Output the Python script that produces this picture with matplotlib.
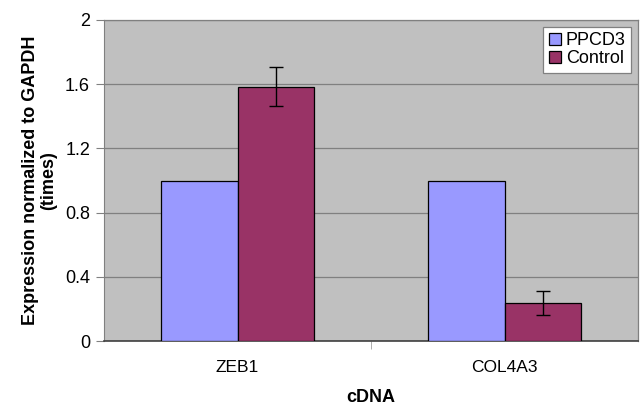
import matplotlib
matplotlib.use("Agg")
import matplotlib.pyplot as plt
import numpy as np

categories = ["ZEB1", "COL4A3"]
series_names = ["PPCD3", "Control"]
ppcd3 = [1.0, 1.0]
control = [1.585, 0.235]
control_err = [0.12, 0.075]
yticks = [0, 0.4, 0.8, 1.2, 1.6, 2]
ytick_labels = ["0", "0.4", "0.8", "1.2", "1.6", "2"]

plt.rcParams['font.family'] = ['Liberation Sans', 'DejaVu Sans']

fig = plt.figure(figsize=(6.42, 4.05), dpi=100)
ax = fig.add_axes([104/642, 1-341/405, 534/642, 321/405])
ax.set_facecolor('#C0C0C0')

x = np.arange(len(categories))
w = 0.288
ax.bar(x - w/2, ppcd3, w, color='#9999FF', edgecolor='black', linewidth=0.9, label=series_names[0], zorder=3)
ax.bar(x + w/2, control, w, color='#993366', edgecolor='black', linewidth=0.9, label=series_names[1], zorder=3)
ax.errorbar(x + w/2, control, yerr=control_err, fmt='none', ecolor='black', elinewidth=1.0, capsize=5, capthick=1.0, zorder=4)

ax.set_xlim(-0.5, 1.5)
ax.set_ylim(0, 2)
ax.set_yticks(yticks)
ax.set_yticklabels(ytick_labels, fontsize=13)
ax.yaxis.grid(True, color='#808080', linewidth=0.9, zorder=0)
ax.set_axisbelow(True)

ax.set_xticks(x)
ax.set_xticklabels(categories, fontsize=12.5)
ax.tick_params(axis='x', length=0, pad=14)
ax.set_xticks([0.5], minor=True)
ax.tick_params(axis='x', which='minor', length=6, color='#A0A0A0', direction='out')
ax.tick_params(axis='y', length=6, color='#808080', direction='out', pad=4)

for s in ['top', 'right']:
    ax.spines[s].set_color('#808080')
    ax.spines[s].set_linewidth(0.9)
ax.spines['left'].set_color('#808080')
ax.spines['bottom'].set_color('#404040')
ax.spines['bottom'].set_linewidth(1.2)

ax.set_ylabel("Expression normalized to GAPDH\n(times)", fontsize=13, fontweight='bold', labelpad=6, linespacing=1.05)
ax.set_xlabel("cDNA", fontsize=13, fontweight='bold', labelpad=10)

leg = ax.legend(loc='upper right', bbox_to_anchor=(631/642, 1-27/405), bbox_transform=fig.transFigure,
                fontsize=13, frameon=True, fancybox=False, edgecolor='#808080', framealpha=1,
                handlelength=0.7, handleheight=0.7, handletextpad=0.25, borderpad=0.3, labelspacing=0.05,
                borderaxespad=0)
leg.get_frame().set_linewidth(0.9)

fig.savefig("out.png", dpi=100)
